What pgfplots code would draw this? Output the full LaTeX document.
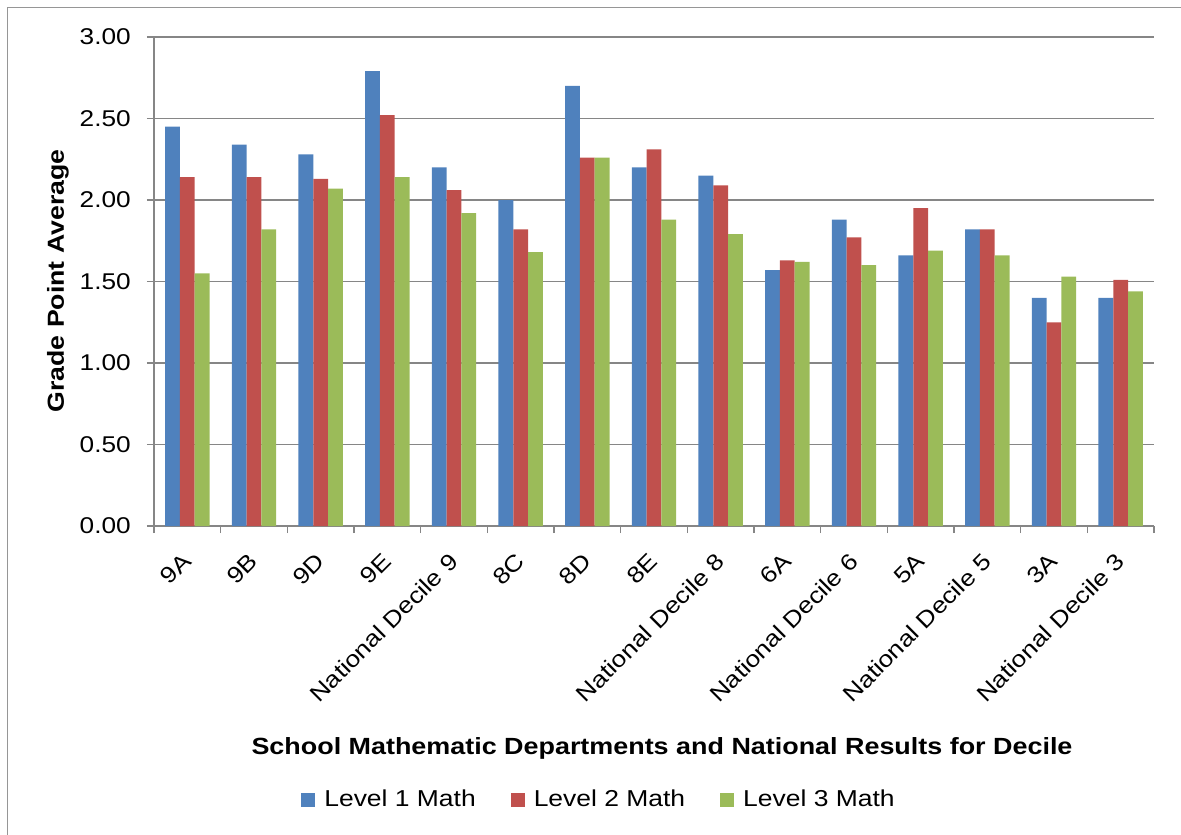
\documentclass[border=0pt]{standalone}
\usepackage{fontspec}
\setmainfont{Liberation Sans}[FakeStretch=1.15]
\usepackage{pgfplots}
\pgfplotsset{compat=1.18}

\definecolor{lvlone}{RGB}{79,129,189}
\definecolor{lvltwo}{RGB}{192,80,77}
\definecolor{lvlthree}{RGB}{155,187,89}
\definecolor{gridgray}{RGB}{134,134,134}
\definecolor{framegray}{RGB}{150,150,150}

\begin{document}
\fontsize{11.5pt}{13.8pt}\selectfont
\begin{tikzpicture}
% page area, origin at the top left corner
\path[use as bounding box] (0,0) rectangle (590.5pt,-417pt);
% chart frame
\draw[framegray, line width=0.6pt] (3.6pt,-420pt) -- (3.6pt,-3.6pt) -- (595pt,-3.6pt);

\begin{axis}[
  at={(77pt,-263pt)}, anchor=south west,
  width=500pt, height=244.5pt, scale only axis,
  xmin=-0.5, xmax=14.5, ymin=0, ymax=3,
  ybar=0pt, bar width=7.4pt,
  axis lines=left,
  axis line style={-, draw=gridgray, line width=0.8pt},
  xtick={0,...,14},
  xticklabels={9A,9B,9D,9E,National Decile 9,8C,8D,8E,National Decile 8,6A,National Decile 6,5A,National Decile 5,3A,National Decile 3},
  major x tick style={draw=none},
  minor xtick={-0.5,0.5,...,14.5},
  minor x tick style={draw=gridgray, line width=0.8pt},
  minor tick length=3.6pt,
  major tick length=3.6pt,
  tick align=outside,
  ytick={0,0.5,...,3},
  y tick style={draw=gridgray, line width=0.8pt},
  ymajorgrids,
  major grid style={draw=gridgray, line width=0.8pt},
  /pgf/number format/assume math mode=true,
  yticklabel style={/pgf/number format/.cd, fixed, fixed zerofill, precision=2, /tikz/.cd, xshift=-4pt},
  xticklabel style={yshift=-12pt, rotate=45, anchor=east, inner sep=0pt},
  tick label style={font=\fontsize{11.4pt}{13.8pt}\selectfont},
  legend columns=3,
  legend style={at={(0.446,-0.560)}, anchor=center, draw=none, fill=none,
    font=\fontsize{11.5pt}{13.8pt}\selectfont,
    /tikz/every odd column/.append style={column sep=2.5pt},
    /tikz/every even column/.append style={column sep=15.5pt}},
  legend image code/.code={\fill[#1] (0pt,-3.5pt) rectangle (7pt,3.5pt);},
  clip=false,
]
\addplot[fill=lvlone, draw=none] coordinates {
  (0,2.45) (1,2.34) (2,2.28) (3,2.79) (4,2.20) (5,2.00) (6,2.70) (7,2.20)
  (8,2.15) (9,1.57) (10,1.88) (11,1.66) (12,1.82) (13,1.40) (14,1.40)};
\addplot[fill=lvltwo, draw=none] coordinates {
  (0,2.14) (1,2.14) (2,2.13) (3,2.52) (4,2.06) (5,1.82) (6,2.26) (7,2.31)
  (8,2.09) (9,1.63) (10,1.77) (11,1.95) (12,1.82) (13,1.25) (14,1.51)};
\addplot[fill=lvlthree, draw=none] coordinates {
  (0,1.55) (1,1.82) (2,2.07) (3,2.14) (4,1.92) (5,1.68) (6,2.26) (7,1.88)
  (8,1.79) (9,1.62) (10,1.60) (11,1.69) (12,1.66) (13,1.53) (14,1.44)};
\legend{Level 1 Math, Level 2 Math, Level 3 Math}
\end{axis}

% axis titles
\node[font=\bfseries\fontsize{11.7pt}{13.8pt}\selectfont] at (331pt,-374pt)
  {School Mathematic Departments and National Results for Decile};
\node[rotate=90, font=\bfseries\fontsize{11.6pt}{13.8pt}\selectfont] at (29pt,-140.5pt)
  {Grade Point Average};
\end{tikzpicture}
\end{document}
